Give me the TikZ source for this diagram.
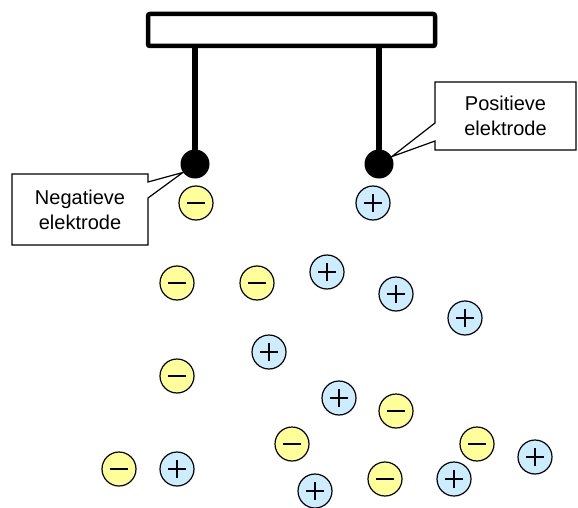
\documentclass[tikz,border=0pt]{standalone}
\usepackage{fontspec}
\setmainfont{Liberation Sans}
\usepackage{xcolor}
\usetikzlibrary{shapes.callouts}
\definecolor{negfill}{HTML}{FFFF99}
\definecolor{posfill}{HTML}{CCECFF}
\tikzset{
  every node/.style={align=center},
  ion/.style={circle, draw, line width=1.2pt, minimum size=34pt, inner sep=0pt},
  negion/.style={ion, fill=negfill, path picture={
      \draw[line width=1.5pt] ([xshift=-9pt]path picture bounding box.center)
        -- ([xshift=9pt]path picture bounding box.center);}},
  posion/.style={ion, fill=posfill, path picture={
      \draw[line width=1.5pt] ([xshift=-9pt]path picture bounding box.center)
        -- ([xshift=9pt]path picture bounding box.center);
      \draw[line width=1.5pt] ([yshift=-9pt]path picture bounding box.center)
        -- ([yshift=9pt]path picture bounding box.center);}},
  ball/.style={circle, fill=black, minimum size=29pt, inner sep=0pt},
  callbox/.style={rectangle callout, draw, line width=1.2pt, fill=white,
    inner sep=0pt, font=\fontsize{20}{25}\selectfont}
}

\begin{document}
\begin{tikzpicture}[x=1pt, y=-1pt]
  \useasboundingbox (0,0) rectangle (578,508);

  % Holder at the top
  \node[draw, line width=4.5pt, rounded corners=2pt, minimum width=287pt,
    minimum height=32pt, inner sep=0pt] (bar) at (291.5,30) {};

  % Electrodes
  \node[ball] (ballL) at (195,164) {};
  \node[ball] (ballR) at (379,164) {};
  \draw[line width=6.5pt] (bar.south -| ballL) -- (ballL.center);
  \draw[line width=6.5pt] (bar.south -| ballR) -- (ballR.center);

  % Labels
  \node[callbox, minimum width=136pt, minimum height=71pt,
    callout absolute pointer={(ballL.215)}, callout pointer width=16pt]
    (labelL) at (80,209.5) {Negatieve\\elektrode};
  \node[callbox, minimum width=141pt, minimum height=68pt,
    callout absolute pointer={(ballR.30)}, callout pointer width=18pt]
    (labelR) at (505.5,116) {Positieve\\elektrode};

  % Negative ions
  \foreach \x/\y [count=\i] in {196/203, 177/283, 257/283, 177/376, 396/411,
      292/444, 477/444, 119/469, 385/479}
    \node[negion] (neg\i) at (\x,\y) {};

  % Positive ions
  \foreach \x/\y [count=\i] in {373/203, 327/272, 396/294, 465/318, 269/352,
      339/398, 535/457, 177/469, 454/479, 315/491}
    \node[posion] (pos\i) at (\x,\y) {};
\end{tikzpicture}
\end{document}
